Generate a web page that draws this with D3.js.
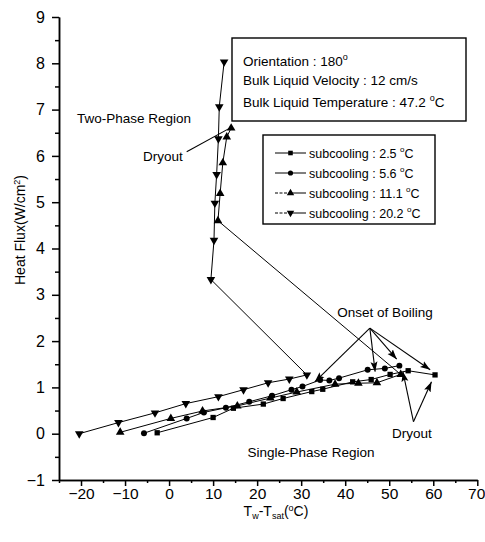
<!DOCTYPE html>
<html>
<head>
<meta charset="utf-8">
<script src="https://cdn.jsdelivr.net/npm/d3@7"></script>
<style>
  body { margin: 0; background: #fff; }
  svg { font-family: "Liberation Sans", Arial, sans-serif; }
</style>
</head>
<body>
<svg id="chart" width="485" height="542"></svg>
<script>
/* ── data ────────────────────────────────────────────────── */
const xTicks = [-20, -10, 0, 10, 20, 30, 40, 50, 60, 70];
const yTicks = [-1, 0, 1, 2, 3, 4, 5, 6, 7, 8, 9];

const sub25 = [[-2.7,0.02],[10.0,0.35],[14.6,0.55],[21.4,0.64],[25.9,0.76],[32.4,0.91],
               [34.9,0.96],[41.7,1.12],[45.9,1.17],[50.2,1.28],[54.3,1.36],[60.4,1.27]];
const sub56 = [[-5.7,0.01],[4.0,0.33],[7.9,0.46],[12.9,0.56],[18.2,0.69],[23.4,0.82],
               [27.8,0.95],[30.3,1.02],[34.3,1.16],[36.4,1.15],[38.6,1.2],[45.1,1.38],
               [49.0,1.41],[52.3,1.47]];
const sub111 = [[-11.1,0.03],[0.4,0.33],[7.6,0.49],[15.5,0.6],[23.0,0.77],[29.0,0.9],
                [37.7,1.07],[43.0,1.09],[47.2,1.10],[52.6,1.28],
                [11.1,4.6],[11.6,5.19],[12.2,5.85],[13.1,6.41],[14.1,6.6]];
const sub202 = [[-20.4,0.0],[-11.5,0.24],[-3.2,0.45],[3.8,0.65],[11.2,0.8],[16.9,0.95],
                [22.5,1.1],[27.3,1.18],[31.3,1.27],
                [9.5,3.33],[10.2,4.18],[10.4,4.98],[10.8,5.6],[11.2,6.37],[11.4,7.06],[12.5,8.03]];

const seriesNames = ['2.5', '5.6', '11.1', '20.2'];

// annotation arrows, data coords: [from, to]
const onsetArrows  = [[[45.6,2.28],[33.1,1.12]], [[45.6,2.28],[46.8,1.34]],
                      [[45.6,2.28],[51.7,1.61]], [[45.6,2.28],[59.3,1.38]]];
const dryoutArrows = [[[55.5,0.26],[53.1,1.34]], [[55.5,0.26],[59.6,1.12]]];
const dryoutLine   = [[4.0,6.09],[13.8,6.6]];

/* ── layout ──────────────────────────────────────────────── */
const svg = d3.select('#chart');
const x = d3.scaleLinear().domain([-25, 70]).range([59, 477.3]);
const y = d3.scaleLinear().domain([-1, 9]).range([480, 17]);

svg.append('defs').append('marker')
   .attr('id', 'arrow')
   .attr('viewBox', '0 0 10 10')
   .attr('refX', 10).attr('refY', 5)
   .attr('markerWidth', 10).attr('markerHeight', 10)
   .attr('markerUnits', 'userSpaceOnUse')
   .attr('orient', 'auto')
   .append('path').attr('d', 'M0,1.5 L10,5 L0,8.5 L2,5 Z').attr('fill', '#000');

/* axes ----------------------------------------------------- */
const minorX = d3.range(-25, 71, 5).filter(v => v % 10 !== 0);
const minorY = d3.range(-0.5, 9, 1);

svg.append('g').attr('transform', 'translate(0,480)')
   .call(d3.axisBottom(x).tickValues(minorX).tickSize(3).tickSizeOuter(0).tickFormat(''));
const gx = svg.append('g').attr('transform', 'translate(0,480)')
   .call(d3.axisBottom(x).tickValues(xTicks).tickSize(6).tickSizeOuter(0).tickPadding(2));
gx.selectAll('text').attr('font-size', 15.5).attr('fill', '#000');
gx.selectAll('.tick').filter(d => d === 70).select('text').attr('text-anchor', 'end').attr('dx', 7.5);

svg.append('g').attr('transform', 'translate(59,0)')
   .call(d3.axisLeft(y).tickValues(minorY).tickSize(4).tickSizeOuter(0).tickFormat(''));
const gy = svg.append('g').attr('transform', 'translate(59,0)')
   .call(d3.axisLeft(y).tickValues(yTicks).tickSize(7).tickSizeOuter(0).tickPadding(7));
gy.selectAll('text').attr('font-size', 16).attr('fill', '#000');

svg.selectAll('.domain, .tick line').attr('stroke', '#000').attr('stroke-width', 1.5);

/* axis titles ---------------------------------------------- */
const xl = svg.append('text').attr('x', 276).attr('y', 516)
   .attr('text-anchor', 'middle').attr('font-size', 14);
xl.append('tspan').text('T');
xl.append('tspan').attr('font-size', 9).attr('dy', 3).text('w');
xl.append('tspan').attr('dy', -3).text('-T');
xl.append('tspan').attr('font-size', 9).attr('dy', 3).text('sat');
xl.append('tspan').attr('dy', -3).text('(');
xl.append('tspan').attr('font-size', 9).attr('dy', -5).text('o');
xl.append('tspan').attr('dy', 5).text('C)');

const yl = svg.append('text').attr('transform', 'translate(25,230) rotate(-90)')
   .attr('text-anchor', 'middle').attr('font-size', 14);
yl.append('tspan').text('Heat Flux(W/cm');
yl.append('tspan').attr('font-size', 9).attr('dy', -5).text('2');
yl.append('tspan').attr('dy', 5).text(')');

/* series --------------------------------------------------- */
const allSeries = [sub25, sub56, sub111, sub202];
const symbols = [
  { type: d3.symbolSquare,   size: 28, rot: 0 },
  { type: d3.symbolCircle,   size: 28, rot: 0 },
  { type: d3.symbolTriangle, size: 32, rot: 0 },
  { type: d3.symbolTriangle, size: 32, rot: 180 }
];
const legendDash = [null, null, '3,1.5', '3,1.5'];
const line = d3.line().x(d => x(d[0])).y(d => y(d[1]));

allSeries.forEach((s, i) => {
  svg.append('path').datum(s)
     .attr('d', line).attr('fill', 'none')
     .attr('stroke', '#000').attr('stroke-width', 1);
  svg.append('g').selectAll('path').data(s).join('path')
     .attr('d', d3.symbol(symbols[i].type, symbols[i].size))
     .attr('transform', d => `translate(${x(d[0])},${y(d[1])}) rotate(${symbols[i].rot})`)
     .attr('fill', '#000');
});

/* annotations ---------------------------------------------- */
[...onsetArrows, ...dryoutArrows].forEach(a => {
  svg.append('line')
     .attr('x1', x(a[0][0])).attr('y1', y(a[0][1]))
     .attr('x2', x(a[1][0])).attr('y2', y(a[1][1]))
     .attr('stroke', '#000').attr('stroke-width', 1.1)
     .attr('marker-end', 'url(#arrow)');
});
svg.append('line')
   .attr('x1', x(dryoutLine[0][0])).attr('y1', y(dryoutLine[0][1]))
   .attr('x2', x(dryoutLine[1][0])).attr('y2', y(dryoutLine[1][1]))
   .attr('stroke', '#000').attr('stroke-width', 1.1);

const label = (tx, ty, t, anchor) => svg.append('text')
   .attr('x', tx).attr('y', ty).attr('font-size', 13.5)
   .attr('text-anchor', anchor || 'start').text(t);
label(77, 123, 'Two-Phase Region');
label(143, 161, 'Dryout');
label(385, 317, 'Onset of Boiling', 'middle');
label(412, 438, 'Dryout', 'middle');
label(311, 457, 'Single-Phase Region', 'middle');

/* info box ------------------------------------------------- */
svg.append('rect').attr('x', 232).attr('y', 38).attr('width', 234).attr('height', 83)
   .attr('fill', '#fff').attr('stroke', '#000').attr('stroke-width', 1.4);
const info = [
  ['Orientation : 180', 'o', ''],
  ['Bulk Liquid Velocity : 12 cm/s', '', ''],
  ['Bulk Liquid Temperature : 47.2 ', 'o', 'C']
];
const infoY = [66, 85, 107];
info.forEach((r, i) => {
  const t = svg.append('text').attr('x', 243).attr('y', infoY[i]).attr('font-size', 13.5);
  t.append('tspan').text(r[0]);
  if (r[1]) {
    t.append('tspan').attr('font-size', 9).attr('dy', -6).text(r[1]);
    t.append('tspan').attr('dy', 6).text(r[2]);
  }
});

/* legend --------------------------------------------------- */
svg.append('rect').attr('x', 263).attr('y', 135).attr('width', 172).attr('height', 89)
   .attr('fill', '#fff').attr('stroke', '#000').attr('stroke-width', 1.4);
seriesNames.forEach((n, i) => {
  const ly = 153 + i * 20;
  svg.append('line').attr('x1', 275).attr('x2', 290).attr('y1', ly).attr('y2', ly)
     .attr('stroke', '#000').attr('stroke-width', 1).attr('stroke-dasharray', legendDash[i]);
  svg.append('line').attr('x1', 290).attr('x2', 306).attr('y1', ly).attr('y2', ly)
     .attr('stroke', '#000').attr('stroke-width', 1);
  svg.append('path')
     .attr('d', d3.symbol(symbols[i].type, symbols[i].size * 0.75))
     .attr('transform', `translate(290.5,${ly}) rotate(${symbols[i].rot})`)
     .attr('fill', '#000');
  const t = svg.append('text').attr('x', 309).attr('y', ly + 4.5).attr('font-size', 12.5);
  t.append('tspan').text(`subcooling : ${n} `);
  t.append('tspan').attr('font-size', 8).attr('dy', -6).text('o');
  t.append('tspan').attr('dy', 6).text('C');
});
</script>
</body>
</html>
